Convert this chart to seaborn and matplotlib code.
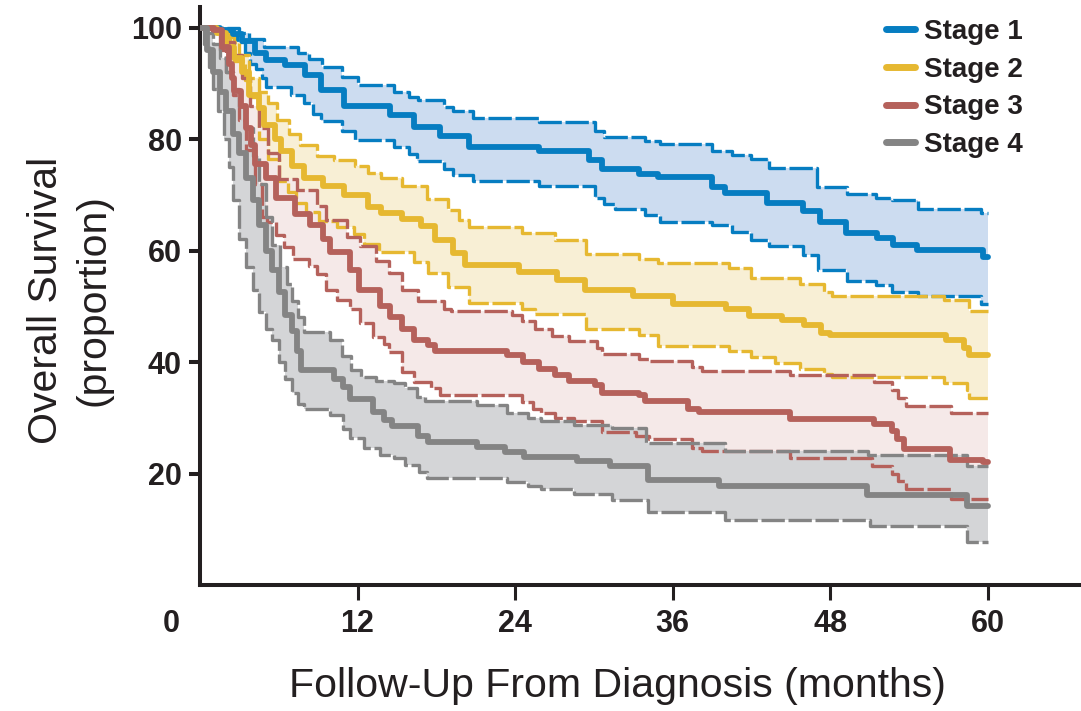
import numpy as np
import pandas as pd
import matplotlib
matplotlib.use("Agg")
import matplotlib.pyplot as plt
import seaborn as sns

# Kaplan-Meier estimates: (month, % surviving)
stage1_est = [(0, 100), (1.5, 99.5), (2.5, 98.9), (3.2, 97.6), (4.2, 95.5), (5.0, 94.2), (6.5, 93.3),
              (8.0, 91.5), (9.2, 88.8), (11.0, 86.0), (14.5, 84.3), (16.3, 82.1), (18.3, 80.6),
              (20.5, 78.6), (25.8, 77.9), (29.6, 76.3), (30.6, 74.7), (33.4, 73.8), (34.9, 73.2),
              (39.0, 71.4), (40.0, 70.4), (43.2, 68.6), (45.9, 67.1), (47.2, 65.1), (49.2, 63.2),
              (51.6, 62.3), (52.8, 61.0), (54.6, 60.1), (59.6, 58.8)]
stage1_hi = [(0, 100), (3.0, 99.0), (3.7, 98.0), (4.9, 96.5), (7.5, 95.5), (8.3, 94.4), (9.3, 93.0),
             (10.8, 91.2), (12.0, 89.7), (14.8, 88.5), (15.9, 87.6), (16.6, 87.1), (18.6, 85.7),
             (19.3, 85.0), (20.8, 83.7), (25.8, 83.0), (30.1, 81.5), (30.8, 80.3), (33.9, 79.6),
             (35.0, 79.1), (39.0, 77.9), (40.5, 77.1), (42.0, 76.5), (43.3, 74.8), (47.0, 71.4),
             (49.3, 70.2), (51.5, 69.5), (52.7, 69.0), (54.7, 67.5), (59.5, 66.8)]
stage1_lo = [(0, 100), (2.0, 99.0), (2.8, 97.5), (3.4, 95.5), (3.8, 93.5), (4.3, 92.5), (4.7, 91.0),
             (5.0, 89.4), (6.9, 88.0), (7.9, 86.5), (8.6, 84.5), (9.2, 83.3), (10.8, 81.5),
             (11.8, 79.8), (14.8, 78.5), (15.9, 77.4), (16.5, 76.1), (18.6, 74.6), (19.3, 73.5),
             (20.8, 72.4), (25.8, 71.6), (30.1, 69.4), (30.8, 68.3), (31.6, 67.5), (33.9, 66.3),
             (35.0, 65.2), (39.0, 64.5), (40.5, 63.4), (42.0, 61.9), (43.3, 60.8), (45.9, 59.2),
             (47.1, 56.6), (49.3, 54.5), (51.5, 53.8), (52.7, 52.5), (54.7, 51.9), (59.5, 50.4)]

stage2_est = [(0, 100), (1.3, 99.0), (2.0, 96.5), (2.6, 94.5), (3.2, 92.0), (3.7, 88.0), (4.5, 85.5),
              (4.9, 82.5), (5.7, 80.0), (6.2, 77.8), (7.0, 75.2), (7.9, 73.0), (9.4, 71.6),
              (11.0, 70.0), (12.8, 67.9), (13.8, 66.7), (15.4, 65.6), (16.8, 64.4), (17.9, 61.9),
              (19.3, 59.5), (20.2, 57.5), (24.3, 56.1), (27.2, 54.7), (29.3, 53.0), (33.0, 51.9),
              (36.0, 50.4), (40.1, 49.5), (41.8, 48.2), (44.3, 47.5), (46.0, 46.6), (47.3, 45.3),
              (48.0, 44.8), (56.8, 43.9), (58.2, 42.5), (58.6, 41.3)]
stage2_hi = [(0, 100), (1.5, 99.0), (2.3, 97.5), (3.0, 95.0), (3.7, 91.0), (4.5, 88.5), (5.2, 86.5),
             (5.9, 83.5), (6.8, 81.0), (7.6, 79.0), (8.9, 77.0), (10.2, 76.2), (11.8, 75.1),
             (12.8, 74.0), (13.8, 73.0), (15.4, 71.5), (17.3, 69.2), (18.9, 67.3), (19.7, 65.4),
             (20.5, 64.3), (24.5, 63.1), (27.0, 61.9), (29.4, 59.4), (33.4, 58.4), (34.9, 57.8),
             (40.3, 56.8), (42.0, 55.0), (45.7, 54.0), (47.5, 52.5), (48.1, 51.9), (56.7, 51.1),
             (58.6, 49.1)]
stage2_lo = [(0, 100), (1.2, 99.5), (1.9, 98.3), (2.6, 94.0), (3.4, 90.6), (3.8, 87.5), (4.5, 80.0),
             (5.2, 76.5), (6.0, 72.5), (6.7, 70.5), (7.3, 68.6), (8.1, 66.9), (9.1, 65.3),
             (10.4, 64.3), (11.7, 63.0), (12.5, 61.2), (13.6, 59.8), (16.3, 58.0), (17.4, 56.0),
             (18.9, 53.5), (20.5, 50.6), (24.5, 49.6), (25.5, 48.7), (29.4, 45.9), (33.4, 44.8),
             (34.9, 42.8), (40.3, 42.0), (42.0, 40.9), (43.8, 39.9), (45.7, 38.8), (47.5, 37.8),
             (48.1, 37.4), (56.7, 36.2), (58.4, 34.9), (58.6, 33.6)]

stage3_est = [(0, 100), (1.1, 99.5), (1.7, 96.6), (2.2, 93.5), (2.4, 91.0), (2.6, 88.6), (3.1, 86.0),
              (3.5, 82.0), (3.9, 79.0), (4.2, 75.6), (5.0, 73.0), (5.8, 69.4), (7.2, 66.5),
              (8.4, 64.5), (9.4, 62.0), (9.9, 59.8), (11.4, 56.5), (12.1, 52.9), (13.7, 50.0),
              (14.5, 48.0), (15.4, 46.0), (16.3, 44.0), (17.4, 43.0), (17.9, 42.0), (23.4, 41.2),
              (24.6, 40.0), (25.8, 38.8), (27.0, 37.6), (28.1, 36.6), (30.1, 35.9), (30.6, 34.5),
              (33.4, 34.0), (33.9, 33.0), (37.2, 31.6), (38.0, 31.1), (44.9, 29.7), (51.3, 28.8),
              (52.7, 27.6), (53.1, 26.2), (53.6, 24.4), (57.1, 22.5), (59.6, 22.0)]
stage3_hi = [(0, 100), (1.2, 99.5), (2.0, 97.5), (2.6, 95.0), (3.2, 91.0), (3.8, 86.0), (4.5, 82.0),
             (5.2, 77.5), (6.0, 72.8), (7.4, 70.8), (8.9, 68.0), (9.6, 65.4), (11.2, 62.5),
             (12.2, 60.8), (13.4, 58.2), (14.4, 56.0), (15.4, 53.0), (16.6, 51.0), (18.6, 49.6),
             (19.1, 49.1), (23.8, 48.4), (24.5, 47.3), (25.5, 46.0), (26.8, 44.6), (28.1, 43.8),
             (30.2, 42.5), (30.6, 41.5), (33.4, 40.6), (34.2, 40.1), (37.5, 39.1), (38.2, 38.4),
             (44.9, 37.7), (51.3, 36.5), (52.7, 34.9), (53.2, 33.5), (53.8, 32.2), (57.2, 30.8)]
stage3_lo = [(0, 100), (0.9, 99.0), (1.5, 96.0), (2.0, 92.0), (2.5, 88.0), (3.0, 83.5), (3.5, 78.0),
             (4.2, 72.0), (4.7, 66.0), (5.1, 65.1), (5.8, 62.8), (6.4, 60.7), (7.1, 58.5),
             (8.3, 57.3), (8.9, 55.8), (9.6, 53.0), (10.4, 51.2), (11.4, 49.5), (12.2, 47.0),
             (13.2, 44.5), (14.0, 43.3), (14.4, 41.8), (15.4, 38.3), (16.3, 36.4), (17.6, 35.4),
             (18.3, 34.1), (24.5, 32.9), (25.4, 31.6), (26.0, 30.8), (27.0, 30.0), (28.5, 29.4),
             (30.6, 27.5), (33.2, 26.8), (34.2, 26.2), (37.5, 24.5), (38.2, 24.0), (44.9, 22.8),
             (51.2, 21.3), (52.7, 20.0), (53.2, 18.6), (53.8, 17.3), (57.2, 15.5)]

stage4_est = [(0, 100), (0.5, 96.0), (1.0, 92.0), (1.5, 88.5), (2.0, 85.0), (2.5, 81.0), (3.0, 77.5),
              (3.5, 73.0), (4.0, 69.0), (4.5, 64.5), (5.0, 60.0), (5.5, 56.5), (6.0, 52.5),
              (6.5, 48.5), (7.0, 45.5), (7.4, 42.0), (7.7, 38.5), (10.2, 37.0), (10.9, 35.5),
              (11.4, 33.4), (13.2, 31.1), (14.0, 29.6), (14.6, 28.5), (16.6, 26.7), (17.4, 25.6),
              (21.1, 24.8), (23.2, 23.9), (24.7, 22.9), (28.7, 22.2), (31.2, 21.3), (34.1, 18.8),
              (39.5, 17.8), (50.8, 16.1), (58.4, 14.2)]
stage4_hi = [(0, 100), (0.5, 99.0), (1.0, 97.0), (1.5, 94.5), (2.0, 92.0), (2.5, 89.0), (3.0, 86.0),
             (3.5, 82.0), (4.0, 77.0), (4.5, 72.0), (5.0, 66.0), (5.5, 61.0), (6.1, 57.0),
             (6.6, 54.0), (7.0, 51.0), (7.5, 48.0), (7.9, 45.4), (9.9, 43.9), (10.8, 41.0),
             (11.5, 38.6), (12.3, 37.4), (13.4, 36.6), (14.8, 36.2), (15.6, 35.3), (16.5, 33.8),
             (17.1, 33.0), (21.1, 32.3), (23.4, 30.8), (25.0, 29.9), (26.0, 29.4), (28.5, 28.7),
             (31.4, 28.1), (34.0, 25.4), (40.0, 24.0), (50.9, 23.3), (58.4, 21.3)]
stage4_lo = [(0, 100), (0.3, 97.0), (0.7, 93.0), (1.0, 89.0), (1.4, 85.0), (1.8, 80.0), (2.2, 75.0),
             (2.5, 69.0), (3.0, 62.0), (3.5, 57.0), (4.0, 53.0), (4.5, 49.0), (5.0, 46.0),
             (5.5, 44.0), (6.0, 40.0), (6.5, 37.0), (7.0, 34.5), (7.5, 32.5), (7.9, 31.6),
             (9.9, 30.5), (10.9, 28.0), (11.4, 26.3), (12.5, 24.5), (13.7, 23.3), (14.8, 22.7),
             (15.6, 21.6), (16.7, 20.3), (17.3, 19.2), (23.4, 18.5), (25.0, 17.8), (26.0, 17.2),
             (28.5, 16.4), (31.4, 15.3), (34.1, 13.1), (40.0, 11.7), (51.0, 10.5), (58.4, 7.8)]

stages = ["Stage 1", "Stage 2", "Stage 3", "Stage 4"]
estimates = [stage1_est, stage2_est, stage3_est, stage4_est]
uppers = [stage1_hi, stage2_hi, stage3_hi, stage4_hi]
lowers = [stage1_lo, stage2_lo, stage3_lo, stage4_lo]
END = 60

line_colors = ["#067dc1", "#e6b831", "#b5615b", "#848484"]
band_colors = ["#ccdcf0", "#f8efd5", "#f5e9e8", "#d4d5d7"]
ink = "#231f20"


def close(curve):
    # carry the last value out to the end of follow-up
    t, s = map(list, zip(*curve))
    return np.array(t + [END]), np.array(s + [s[-1]])


def step_at(t, s, grid):
    return s[np.searchsorted(t, grid, side="right") - 1]


sns.set_theme(style="white")
plt.rcParams["font.family"] = ["Liberation Sans", "DejaVu Sans"]

fig = plt.figure(figsize=(10.81, 7.11), dpi=100)
ax = fig.add_axes([200 / 1081, 126 / 711, 881 / 1081, 578 / 711])

# confidence bands first, later stages on top
for lo, hi, fc in zip(lowers, uppers, band_colors):
    lt, ls = close(lo)
    ht, hs = close(hi)
    grid = np.union1d(lt, ht)
    ax.fill_between(grid, step_at(lt, ls, grid), step_at(ht, hs, grid),
                    step="post", color=fc, lw=0, zorder=1)

rows = []
for name, est in zip(stages, estimates):
    t, s = close(est)
    rows.append(pd.DataFrame({"month": t, "surv": s, "stage": name}))
df = pd.concat(rows, ignore_index=True)

sns.lineplot(data=df, x="month", y="surv", hue="stage", palette=line_colors,
             estimator=None, sort=False, drawstyle="steps-post", linewidth=4.2,
             legend=False, ax=ax, zorder=4)
main_lines = ax.get_lines()[:4]

for lo, hi, c in zip(lowers, uppers, line_colors):
    for bound in (lo, hi):
        t, s = close(bound)
        ax.step(t, s, where="post", color=c, lw=2.4, dashes=(7, 1.1), zorder=3)

ax.set_xlim(0, 67.1)
ax.set_ylim(0, 103.7)
ax.set_xticks([12, 24, 36, 48, 60])
ax.set_yticks([20, 40, 60, 80, 100])
ax.tick_params(axis="x", length=11, width=2.2, pad=6.5, labelsize=22, colors=ink,
               bottom=True, direction="out")
ax.tick_params(axis="y", length=8, width=2.9, pad=5, labelsize=22, colors=ink,
               left=True, direction="out")
for lab in ax.get_xticklabels() + ax.get_yticklabels():
    lab.set_fontweight("bold")
for side in ("top", "right"):
    ax.spines[side].set_visible(False)
for side in ("left", "bottom"):
    ax.spines[side].set_linewidth(2.9)
    ax.spines[side].set_color(ink)

# shared origin label sits left of the corner
ax.annotate("0", xy=(-2.2, 0), xycoords=("data", "axes fraction"), xytext=(0, -17.5),
            textcoords="offset points", ha="center", va="top", fontsize=22,
            fontweight="bold", color=ink)

ax.set_xlabel("Follow-Up From Diagnosis (months)", fontsize=29.5, color=ink)
ax.set_ylabel("Overall Survival\n(proportion)", fontsize=29.5, color=ink, linespacing=1.32)
ax.xaxis.set_label_coords(0.474, -0.142)
ax.yaxis.set_label_coords(-0.099, 0.493)

leg = ax.legend(main_lines, stages, loc="upper left", bbox_to_anchor=(886 / 1081, 1 - 19 / 711),
                bbox_transform=fig.transFigure, frameon=False,
                prop={"size": 20, "weight": "bold"}, handlelength=1.05,
                handletextpad=0.3, labelspacing=0.42, borderpad=0, borderaxespad=0)
for h in leg.get_lines():
    h.set_linewidth(5)
for txt in leg.get_texts():
    txt.set_color(ink)

fig.savefig("out.png", dpi=100)
